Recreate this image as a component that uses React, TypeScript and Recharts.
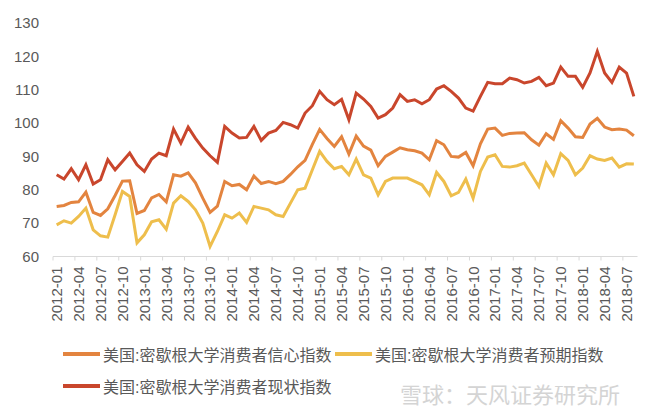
import { LineChart, Line, XAxis, YAxis } from "recharts";

// 2012-01 .. 2018-08, monthly
const months = [
    "2012-01", "2012-02", "2012-03", "2012-04", "2012-05", "2012-06", "2012-07", "2012-08", "2012-09", "2012-10", "2012-11", "2012-12",
    "2013-01", "2013-02", "2013-03", "2013-04", "2013-05", "2013-06", "2013-07", "2013-08", "2013-09", "2013-10", "2013-11", "2013-12",
    "2014-01", "2014-02", "2014-03", "2014-04", "2014-05", "2014-06", "2014-07", "2014-08", "2014-09", "2014-10", "2014-11", "2014-12",
    "2015-01", "2015-02", "2015-03", "2015-04", "2015-05", "2015-06", "2015-07", "2015-08", "2015-09", "2015-10", "2015-11", "2015-12",
    "2016-01", "2016-02", "2016-03", "2016-04", "2016-05", "2016-06", "2016-07", "2016-08", "2016-09", "2016-10", "2016-11", "2016-12",
    "2017-01", "2017-02", "2017-03", "2017-04", "2017-05", "2017-06", "2017-07", "2017-08", "2017-09", "2017-10", "2017-11", "2017-12",
    "2018-01", "2018-02", "2018-03", "2018-04", "2018-05", "2018-06", "2018-07", "2018-08",
];

const sentiment = [
    75.0, 75.3, 76.2, 76.4, 79.3, 73.2, 72.3, 74.3, 78.3, 82.6, 82.7, 72.9,
    73.8, 77.6, 78.6, 76.4, 84.5, 84.1, 85.1, 82.1, 77.5, 73.2, 75.1, 82.5,
    81.2, 81.6, 80.0, 84.1, 81.9, 82.5, 81.8, 82.5, 84.6, 86.9, 88.8, 93.6,
    98.1, 95.4, 93.0, 95.9, 90.7, 96.1, 93.1, 91.9, 87.2, 90.0, 91.3, 92.6,
    92.0, 91.7, 91.0, 89.0, 94.7, 93.5, 90.0, 89.8, 91.2, 87.2, 93.8, 98.2,
    98.5, 96.3, 96.9, 97.0, 97.1, 95.0, 93.4, 96.8, 95.1, 100.7, 98.5, 95.9,
    95.7, 99.7, 101.4, 98.8, 98.0, 98.2, 97.9, 96.2,
];

const expectations = [
    69.5, 70.7, 70.0, 72.0, 74.5, 68.0, 66.2, 65.8, 72.5, 79.5, 78.0, 64.1,
    66.5, 70.4, 71.0, 68.2, 76.0, 78.2, 76.5, 74.0, 70.0, 63.0, 67.5, 72.5,
    71.5, 73.0, 70.2, 75.0, 74.5, 74.0, 72.5, 72.0, 76.0, 80.0, 80.5, 86.0,
    91.5, 88.5, 86.3, 87.0, 84.5, 89.2, 84.5, 83.5, 78.5, 82.5, 83.5, 83.5,
    83.5, 82.5, 81.5, 78.5, 85.2, 82.5, 78.2, 79.2, 83.2, 77.5, 85.5, 89.8,
    90.5, 87.0, 86.8, 87.2, 88.0, 84.5, 81.0, 88.0, 84.5, 90.8, 88.8, 84.5,
    86.5, 90.2, 89.2, 88.8, 89.5, 86.8, 87.8, 87.7,
];

const current = [
    84.5, 83.2, 86.3, 83.0, 87.5, 81.7, 83.0, 89.0, 86.0, 88.5, 91.0, 87.5,
    85.5, 89.2, 91.0, 90.2, 98.2, 94.0, 98.8, 95.4, 92.5, 90.2, 88.2, 99.0,
    97.0, 95.5, 95.7, 99.0, 94.8, 97.0, 97.8, 100.2, 99.5, 98.5, 103.0, 105.2,
    109.5, 107.0, 105.5, 107.1, 101.0, 109.0, 107.2, 105.0, 101.5, 102.5, 104.5, 108.5,
    106.5, 107.0, 105.8, 107.0, 110.2, 111.2, 109.5, 107.5, 104.5, 103.6, 108.0, 112.2,
    111.8, 111.8, 113.5, 113.0, 112.0, 112.5, 113.7, 111.2, 112.0, 116.8, 114.0, 114.0,
    110.7, 115.0, 121.5, 115.0, 112.2, 116.8, 115.0, 108.0,
];

const yTicks = [60, 70, 80, 90, 100, 110, 120, 130];

const series = [
    { key: "sentiment", name: "美国:密歇根大学消费者信心指数", color: "#E3843F" },
    { key: "expectations", name: "美国:密歇根大学消费者预期指数", color: "#EEBE4C" },
    { key: "current", name: "美国:密歇根大学消费者现状指数", color: "#C9462C" },
];

const data = months.map((m, i) => ({
    month: m,
    sentiment: sentiment[i],
    expectations: expectations[i],
    current: current[i],
}));

const W = 660;
const H = 411;
const LEFT = 53;
const RIGHT = 22.5;
const STEP = (W - LEFT - RIGHT) / months.length;
const FONT = "'Liberation Sans', Arial, 'Noto Sans CJK SC', sans-serif";

const MonthTick = (props: any) => {
    const { x, y, payload } = props;
    return (
        <g>
            <line x1={x - STEP / 2} x2={x - STEP / 2} y1={y} y2={y + 4} stroke="#d9d9d9" />
            <text
                x={0}
                y={0}
                dy="0.36em"
                textAnchor="end"
                fontSize={15}
                fill="#595959"
                fontFamily={FONT}
                transform={`translate(${x},${y + 10}) rotate(-90)`}
            >
                {payload.value}
            </text>
        </g>
    );
};

const LegendItem = ({ name, color, left, top }: any) => (
    <div style={{ position: "absolute", left, top, display: "flex", alignItems: "center" }}>
        <div style={{ width: 37, height: 4, background: color, marginRight: 3 }} />
        <span style={{ fontSize: 16, color: "#595959", fontFamily: FONT, whiteSpace: "nowrap" }}>{name}</span>
    </div>
);

export default function App() {
    return (
        <div style={{ position: "relative", width: W, height: H, background: "#fff", overflow: "hidden" }}>
            <style>{`body{margin:0}`}</style>
            <LineChart
                width={W}
                height={H}
                data={data}
                margin={{ top: 23, right: RIGHT, bottom: 84.5, left: 0 }}
            >
                <XAxis
                    dataKey="month"
                    interval={2}
                    tick={<MonthTick />}
                    tickLine={false}
                    tickSize={0}
                    tickMargin={0}
                    height={70}
                    padding={{ left: STEP / 2, right: STEP / 2 }}
                    axisLine={{ stroke: "#d9d9d9" }}
                />
                <YAxis
                    domain={[60, 130]}
                    ticks={yTicks}
                    width={LEFT}
                    axisLine={false}
                    tickLine={false}
                    tickSize={0}
                    tickMargin={14}
                    tick={{ fontSize: 15, fill: "#595959", fontFamily: FONT }}
                />
                {series.map((s) => (
                    <Line
                        key={s.key}
                        type="linear"
                        dataKey={s.key}
                        name={s.name}
                        stroke={s.color}
                        strokeWidth={3}
                        dot={false}
                        isAnimationActive={false}
                    />
                ))}
            </LineChart>

            <LegendItem name={series[0].name} color={series[0].color} left={63} top={342} />
            <LegendItem name={series[1].name} color={series[1].color} left={335} top={342} />
            <LegendItem name={series[2].name} color={series[2].color} left={63} top={374} />

            <div
                style={{
                    position: "absolute",
                    left: 400,
                    top: 380,
                    fontSize: 22,
                    lineHeight: "26px",
                    color: "#d4d4d4",
                    fontFamily: "'Noto Sans CJK SC', sans-serif",
                    whiteSpace: "nowrap",
                }}
            >
                雪球：天风证券研究所
            </div>
        </div>
    );
}
